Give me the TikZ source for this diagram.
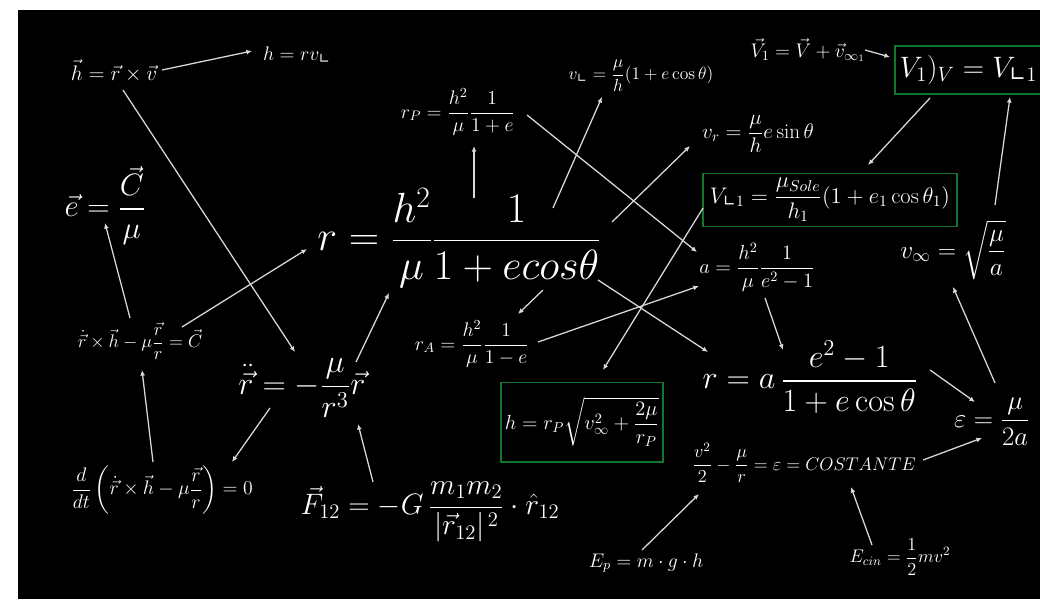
\RequirePackage{fix-cm}
\documentclass[tikz,border=0pt]{standalone}
\usepackage{amsmath}
\usepackage{fontspec}
\newfontfamily\symfont{DejaVu Sans}
\usetikzlibrary{arrows.meta,calc}
\definecolor{boxgreen}{RGB}{18,118,44}
\newcommand{\rang}{\text{\symfont ∟}}

\begin{document}
\begin{tikzpicture}[x=0.025cm, y=-0.025cm, >={Latex[length=4pt,width=3.5pt]},
	every node/.style={text=white, inner sep=0pt},
	formula/.style={font=\fontsize{#1}{#1}\selectfont},
	greenbox/.style={draw=boxgreen, line width=1.4pt, inner sep=3pt}]
	\useasboundingbox (0,0) rectangle (1040,599);
	\clip (0,0) rectangle (1040,599);
	\fill[white] (0,0) rectangle (1040,599);
	\fill[black] (18,10) rectangle (1040,599);
	% left column
	\node[formula=15] (hxv) at (114,71) {$\vec h=\vec r\times\vec v$};
	\node[formula=14] (hrv) at (297,55) {$h=rv_{\rang}$};
	\node[formula=22] (eC) at (105,205) {$\displaystyle\vec e=\frac{\vec C}{\mu}$};
	\node[formula=13] (Ceq) at (140,341) {$\displaystyle\dot{\vec r}\times\vec h-\mu\frac{\vec r}{r}=\vec C$};
	\node[formula=14] (ddt) at (162,490) {$\displaystyle\frac{d}{dt}\left(\dot{\vec r}\times\vec h-\mu\frac{\vec r}{r}\right)=0$};
	\node[formula=23] (rdd) at (302,388) {$\displaystyle\ddot{\vec r}=-\frac{\mu}{r^3}\vec r$};
	\node[formula=21] (F12) at (430,512) {$\displaystyle\vec F_{12}=-G\,\frac{m_1m_2}{|\vec r_{12}|^{\,2}}\cdot\hat r_{12}$};
	% middle
	\node[formula=30] (main) at (459,238) {$\displaystyle r=\frac{h^2}{\mu}\frac{1}{1+ecos\theta}$};
	\node[formula=14] (rP) at (458,112) {$\displaystyle r_P=\frac{h^2}{\mu}\frac{1}{1+e}$};
	\node[formula=12.5] (vperp) at (641,76) {$\displaystyle v_{\rang}=\frac{\mu}{h}(1+e\cos\theta)$};
	\node[formula=15] (vr) at (758,134) {$\displaystyle v_r=\frac{\mu}{h}e\sin\theta$};
	\node[formula=14] (rA) at (472,344) {$\displaystyle r_A=\frac{h^2}{\mu}\frac{1}{1-e}$};
	\node[formula=14.5, greenbox, minimum width=3.75cm, minimum height=1.975cm] (hbox) at (582,422) {$\displaystyle h=r_P\sqrt{v_\infty^2+\frac{2\mu}{r_P}}$};
	% right column
	\node[formula=14] (V1eq) at (808,50) {$\vec V_1=\vec V+\vec v_{\infty_1}$};
	\node[formula=21, inner sep=3pt, anchor=west, minimum height=1.175cm] (box1) at (895,70) {$V_1)_V=V_{\rang 1}$};
	\draw[boxgreen, line width=1.4pt] ($(box1.north west)+(200,0)$) -- (box1.north west) -- (box1.south west) -- ++(200,0);
	\node[formula=16, greenbox, minimum width=6.35cm, minimum height=1.325cm] (box2) at (830,200) {$\displaystyle V_{\rang 1}=\frac{\mu_{Sole}}{h_1}(1+e_1\cos\theta_1)$};
	\node[formula=18] (vinf) at (953,250) {$\displaystyle v_\infty=\sqrt{\frac{\mu}{a}}$};
	\node[formula=14.5] (aeq) at (757,267) {$\displaystyle a=\frac{h^2}{\mu}\frac{1}{e^2-1}$};
	\node[formula=23] (raeq) at (810,377) {$\displaystyle r=a\,\frac{e^2-1}{1+e\cos\theta}$};
	\node[formula=19] (eps) at (992,422) {$\displaystyle\varepsilon=\frac{\mu}{2a}$};
	\node[formula=13] (energy) at (804,463) {$\displaystyle\frac{v^2}{2}-\frac{\mu}{r}=\varepsilon=COSTANTE$};
	\node[formula=14] (Ep) at (646,563) {$E_p=m\cdot g\cdot h$};
	\node[formula=13] (Ecin) at (900,557) {$\displaystyle E_{cin}=\frac{1}{2}mv^2$};
	% links between formulas
	\foreach \from/\fx/\fy/\to/\tx/\ty in {
		hxv/48/-1/hrv/-45/-4, hxv/9/19/rdd/-7/-36,
		Ceq/-10/-23/eC/0/18, Ceq/42/-14/main/-152/11,
		ddt/-9/-28/Ceq/2/29, rdd/-32/20/ddt/70/-28,
		F12/-57/-30/rdd/56/36, rdd/54/-26/main/-70/55,
		main/15/-40/rP/16/34, main/94/-30/vperp/-39/21,
		rP/69/3/aeq/-60/-15, main/153/-16/vr/-68/12,
		V1eq/57/0/box1.west/-5/-13, box1.west/35/28/box2/38/-35,
		vinf/42/-45/box1.west/115/27, box2/-127/8/hbox/21/-52,
		rA/66/-2/aeq/-58/19, main/84/52/rA/46/-30,
		main/139/42/raeq/-102/-25, aeq/8/31/raeq/-27/-27,
		raeq/120/-7/eps/-17/-20, eps/3/-39/vinf/0/37,
		energy/119/-3/eps/-10/16, Ep/-4/-13/energy/-105/31,
		Ecin/-28/-12/energy/47/24}
		\draw[->, white!85!black, line width=0.9pt] ($(\from)+(\fx,\fy)$) -- ($(\to)+(\tx,\ty)$);
\end{tikzpicture}
\end{document}
